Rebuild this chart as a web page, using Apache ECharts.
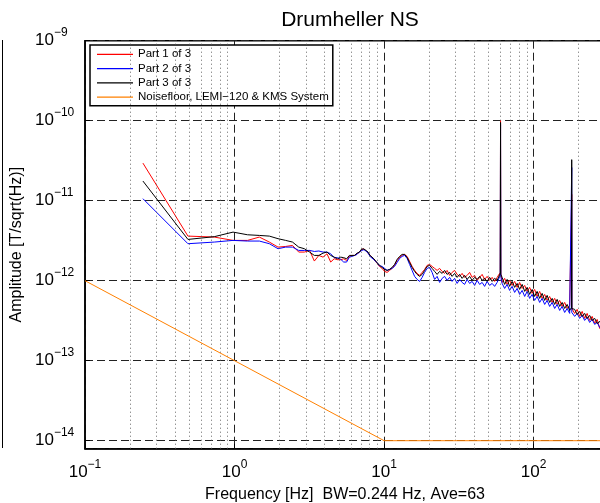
<!DOCTYPE html>
<html>
<head>
<meta charset="utf-8">
<script src="https://cdn.jsdelivr.net/npm/echarts@6/dist/echarts.min.js"></script>
<style>html,body{margin:0;padding:0;background:#fff;}#chart{width:600px;height:503px;}</style>
</head>
<body>
<div id="chart"></div>
<script>
// Frequencies [Hz] shared by the three measured parts
const freq = [
  0.244, 0.488, 0.732, 0.977, 1.221, 1.465, 1.709, 1.953, 2.197, 2.441,
  2.686, 2.930, 3.174, 3.418, 3.662, 3.906, 4.150, 4.395, 4.639, 4.883,
  5.127, 5.371, 5.615, 5.859, 6.104, 6.348, 6.592, 6.836, 7.080, 7.324,
  7.568, 7.813, 8.057, 8.301, 8.545, 8.789, 9.033, 9.277,
  9.70, 10.08, 10.47, 10.88, 11.31, 11.75, 12.22, 12.70, 13.20, 13.71,
  14.25, 14.81, 15.39, 16.00, 16.62, 17.28, 17.96, 18.66, 19.39, 20.15,
  20.95, 21.77, 22.62, 23.51, 24.43, 25.39, 26.38, 27.42, 28.49, 29.62,
  30.78, 31.99, 33.24, 34.55, 35.91, 37.32, 38.78, 40.31, 41.89, 43.53,
  45.24, 47.01, 48.87, 50.78, 52.78, 54.84, 57.00,
  59.81, 60.06, 60.30,
  61.56, 63.97, 66.48, 69.09, 71.80, 74.62, 77.55, 80.6, 83.8, 87.1,
  90.5, 94.0, 97.7, 101.5, 105.5, 109.7, 114.0, 118.5, 123.1, 127.9,
  133.0, 138.2, 143.6, 149.3, 155.1, 161.2, 167.5, 174.1,
  179.44, 179.69, 179.93,
  188.0, 195.4, 203.1, 211.1, 219.3, 227.9, 236.9, 246.2, 255.9, 265.9,
  276.4, 287.2, 298.5
];

// Part 1 of 3 (red) amplitudes [T/sqrt(Hz)]
const part1 = [
  2.95e-11, 3.61e-12, 3.51e-12, 3.19e-12, 3.19e-12, 3.51e-12, 3.04e-12, 2.63e-12, 2.68e-12, 2.76e-12,
  2.28e-12, 2.28e-12, 2.39e-12, 1.76e-12, 2.07e-12, 1.97e-12, 2.17e-12, 1.71e-12, 1.88e-12, 1.83e-12,
  1.83e-12, 1.88e-12, 1.79e-12, 2.01e-12, 2.07e-12, 2.07e-12, 2.17e-12, 2.28e-12, 2.44e-12, 2.51e-12,
  2.35e-12, 2.21e-12, 2.07e-12, 1.97e-12, 1.85e-12, 1.73e-12, 1.63e-12, 1.52e-12,
  1.425e-12, 1.307e-12, 1.270e-12, 1.345e-12, 1.425e-12, 1.553e-12, 1.794e-12, 1.956e-12, 2.072e-12, 2.132e-12,
  2.013e-12, 1.743e-12, 1.509e-12, 1.345e-12, 1.234e-12, 1.165e-12, 1.270e-12, 1.384e-12, 1.553e-12, 1.599e-12,
  1.509e-12, 1.425e-12, 1.345e-12, 1.425e-12, 1.307e-12, 1.234e-12, 1.345e-12, 1.165e-12, 1.270e-12, 1.345e-12,
  1.199e-12, 1.132e-12, 1.234e-12, 1.100e-12, 1.165e-12, 1.270e-12, 1.100e-12, 1.165e-12, 1.010e-12, 1.100e-12,
  1.199e-12, 1.038e-12, 1.132e-12, 1.010e-12, 1.100e-12, 0.980e-12, 1.100e-12,
  1.270e-12, 1.02e-10, 1.234e-12,
  0.952e-12, 1.069e-12, 0.899e-12, 1.010e-12, 0.873e-12, 0.980e-12, 0.825e-12, 0.952e-12, 0.801e-12, 0.873e-12,
  0.735e-12, 0.825e-12, 0.694e-12, 0.778e-12, 0.636e-12, 0.735e-12, 0.601e-12, 0.674e-12, 0.567e-12, 0.636e-12,
  0.535e-12, 0.601e-12, 0.505e-12, 0.567e-12, 0.477e-12, 0.535e-12, 0.450e-12, 0.491e-12,
  0.464e-12, 1.2e-11, 0.450e-12,
  0.390e-12, 0.438e-12, 0.358e-12, 0.413e-12, 0.338e-12, 0.390e-12, 0.319e-12, 0.358e-12, 0.292e-12, 0.328e-12,
  0.253e-12, 0.284e-12, 0.213e-12
];

// Part 2 of 3 (blue)
const part2 = [
  1.06e-11, 2.90e-12, 3.04e-12, 3.19e-12, 3.13e-12, 3.13e-12, 2.90e-12, 2.51e-12, 2.63e-12, 2.63e-12,
  2.39e-12, 2.39e-12, 2.39e-12, 2.32e-12, 2.35e-12, 2.28e-12, 2.28e-12, 2.17e-12, 1.94e-12, 1.94e-12,
  1.85e-12, 1.71e-12, 1.71e-12, 1.97e-12, 2.01e-12, 2.07e-12, 2.13e-12, 2.28e-12, 2.39e-12, 2.44e-12,
  2.35e-12, 2.21e-12, 2.01e-12, 1.94e-12, 1.83e-12, 1.76e-12, 1.66e-12, 1.54e-12,
  1.509e-12, 1.425e-12, 1.345e-12, 1.384e-12, 1.425e-12, 1.509e-12, 1.693e-12, 1.900e-12, 2.013e-12, 2.072e-12,
  1.900e-12, 1.599e-12, 1.345e-12, 1.132e-12, 1.038e-12, 0.980e-12, 1.100e-12, 1.270e-12, 1.425e-12, 1.466e-12,
  1.270e-12, 1.038e-12, 1.132e-12, 0.952e-12, 1.069e-12, 1.132e-12, 1.010e-12, 1.100e-12, 0.980e-12, 1.069e-12,
  0.925e-12, 1.038e-12, 0.952e-12, 0.899e-12, 1.038e-12, 0.925e-12, 0.980e-12, 0.873e-12, 1.010e-12, 0.899e-12,
  0.952e-12, 0.849e-12, 0.980e-12, 0.873e-12, 0.925e-12, 0.849e-12, 0.952e-12,
  1.165e-12, 9.0e-11, 1.132e-12,
  0.925e-12, 0.801e-12, 0.899e-12, 0.756e-12, 0.849e-12, 0.714e-12, 0.801e-12, 0.674e-12, 0.756e-12, 0.636e-12,
  0.735e-12, 0.601e-12, 0.674e-12, 0.567e-12, 0.636e-12, 0.535e-12, 0.601e-12, 0.505e-12, 0.567e-12, 0.477e-12,
  0.535e-12, 0.450e-12, 0.505e-12, 0.425e-12, 0.477e-12, 0.401e-12, 0.450e-12, 0.390e-12,
  0.413e-12, 2.6e-11, 0.401e-12,
  0.358e-12, 0.390e-12, 0.338e-12, 0.368e-12, 0.319e-12, 0.348e-12, 0.301e-12, 0.328e-12, 0.284e-12, 0.301e-12,
  0.261e-12, 0.276e-12, 0.239e-12
];

// Part 3 of 3 (black)
const part3 = [
  1.76e-11, 3.28e-12, 3.55e-12, 4.05e-12, 3.75e-12, 3.68e-12, 3.61e-12, 3.35e-12, 3.19e-12, 3.04e-12,
  2.63e-12, 2.51e-12, 2.28e-12, 2.07e-12, 2.07e-12, 2.21e-12, 2.28e-12, 2.07e-12, 1.97e-12, 1.88e-12,
  1.97e-12, 1.94e-12, 1.88e-12, 2.07e-12, 2.07e-12, 2.07e-12, 2.21e-12, 2.28e-12, 2.49e-12, 2.49e-12,
  2.39e-12, 2.28e-12, 2.07e-12, 2.01e-12, 1.88e-12, 1.76e-12, 1.69e-12, 1.57e-12,
  1.466e-12, 1.384e-12, 1.345e-12, 1.384e-12, 1.466e-12, 1.599e-12, 1.846e-12, 2.013e-12, 2.132e-12, 2.132e-12,
  1.956e-12, 1.693e-12, 1.466e-12, 1.307e-12, 1.199e-12, 1.132e-12, 1.199e-12, 1.345e-12, 1.509e-12, 1.553e-12,
  1.425e-12, 1.307e-12, 1.199e-12, 1.307e-12, 1.234e-12, 1.345e-12, 1.199e-12, 1.270e-12, 1.132e-12, 1.234e-12,
  1.100e-12, 1.199e-12, 1.069e-12, 1.165e-12, 1.038e-12, 1.132e-12, 1.010e-12, 1.100e-12, 1.038e-12, 1.132e-12,
  1.010e-12, 1.069e-12, 0.980e-12, 1.100e-12, 0.980e-12, 1.069e-12, 1.010e-12,
  1.234e-12, 9.5e-11, 1.199e-12,
  1.100e-12, 0.899e-12, 1.038e-12, 0.849e-12, 0.980e-12, 0.825e-12, 0.925e-12, 0.778e-12, 0.899e-12, 0.735e-12,
  0.825e-12, 0.674e-12, 0.778e-12, 0.636e-12, 0.735e-12, 0.601e-12, 0.694e-12, 0.567e-12, 0.655e-12, 0.535e-12,
  0.601e-12, 0.505e-12, 0.584e-12, 0.477e-12, 0.535e-12, 0.450e-12, 0.505e-12, 0.425e-12,
  0.464e-12, 3.26e-11, 0.450e-12,
  0.438e-12, 0.379e-12, 0.413e-12, 0.358e-12, 0.390e-12, 0.338e-12, 0.368e-12, 0.319e-12, 0.338e-12, 0.292e-12,
  0.310e-12, 0.268e-12, 0.284e-12
];

// Noise floor, LEMI-120 & KMS system
const noiseFreq = [0.1, 10, 300];
const noiseAmp = [1e-12, 1e-14, 1e-14];

// Axis ranges and minor grid positions
const xRange = [0.1, 300];
const yRange = [7.943e-15, 1e-9];
const minorX = [0.2,0.3,0.4,0.5,0.6,0.7,0.8,0.9, 2,3,4,5,6,7,8,9, 20,30,40,50,60,70,80,90, 200,300];
const minorY = [9e-15,
  2e-14,3e-14,4e-14,5e-14,6e-14,7e-14,8e-14,9e-14,
  2e-13,3e-13,4e-13,5e-13,6e-13,7e-13,8e-13,9e-13,
  2e-12,3e-12,4e-12,5e-12,6e-12,7e-12,8e-12,9e-12,
  2e-11,3e-11,4e-11,5e-11,6e-11,7e-11,8e-11,9e-11,
  2e-10,3e-10,4e-10,5e-10,6e-10,7e-10,8e-10,9e-10];

const seriesNames = ['Part 1 of 3', 'Part 2 of 3', 'Part 3 of 3', 'Noisefloor, LEMI\u2212120 & KMS System'];
const seriesColors = ['#ff0000', '#0000ff', '#000000', '#ff8000'];

const FONT = '"Liberation Sans", Arial, Helvetica, sans-serif';

function powLabel(v) {
  const l = Math.log10(v);
  const e = Math.round(l);
  if (Math.abs(l - e) > 1e-6) return '';
  return '{b|10}{s|' + (e < 0 ? '\u2212' : '') + Math.abs(e) + '}';
}
const richPow = {
  b: { fontSize: 17, lineHeight: 28, fontFamily: FONT, color: '#000' },
  s: { fontSize: 12, lineHeight: 12, verticalAlign: 'top', fontFamily: FONT, color: '#000' }
};

const chart = echarts.init(document.getElementById('chart'), null, { renderer: 'canvas' });

const minorStyle = { type: [1, 3], color: '#555', width: 1, opacity: 0.9 };

const option = {
  animation: false,
  backgroundColor: '#fff',
  title: {
    text: 'Drumheller NS',
    left: 345, top: 5, textAlign: 'center',
    textStyle: { fontSize: 21, fontWeight: 'normal', color: '#000', fontFamily: FONT }
  },
  grid: {
    left: 85, top: 40.7, width: 520, height: 408,
    outerBoundsMode: 'none', containLabel: false,
    show: true, borderColor: '#000', borderWidth: 1.5, backgroundColor: 'transparent'
  },
  legend: {
    orient: 'vertical',
    left: 90, top: 45,
    data: seriesNames.map((n, i) => ({ name: n, icon: 'rect', itemStyle: { color: seriesColors[i] } })),
    backgroundColor: '#fff',
    borderColor: '#000', borderWidth: 1.5, borderRadius: 0,
    padding: [2.3, 4, 1.5, 7],
    itemWidth: 36, itemHeight: 1.2, itemGap: 0.3,
    textStyle: { fontSize: 11.5, lineHeight: 14, color: '#000', fontFamily: FONT },
    selectedMode: false
  },
  xAxis: {
    type: 'log', logBase: 10,
    min: xRange[0], max: xRange[1],
    name: 'Frequency [Hz]  BW=0.244 Hz, Ave=63',
    nameLocation: 'middle', nameGap: 33,
    nameTextStyle: { fontSize: 16, color: '#000', fontFamily: FONT },
    axisLine: { show: true, onZero: false, lineStyle: { color: '#000', width: 1.5 } },
    axisTick: { show: true, inside: true, length: 5, lineStyle: { color: '#000' } },
    axisLabel: { formatter: powLabel, rich: richPow, margin: 10, showMaxLabel: false },
    splitLine: { show: true, lineStyle: { type: [8, 4], color: '#222', width: 1 } },
    minorTick: { show: false }, minorSplitLine: { show: false }
  },
  yAxis: {
    type: 'log', logBase: 10,
    min: yRange[0], max: yRange[1],
    name: 'Amplitude [T/sqrt(Hz)]',
    nameLocation: 'middle', nameGap: 46, nameRotate: 90,
    nameTextStyle: { fontSize: 16, color: '#000', fontFamily: FONT },
    axisLine: { show: true, onZero: false, lineStyle: { color: '#000', width: 1.5 } },
    axisTick: { show: true, inside: true, length: 5, lineStyle: { color: '#000' } },
    axisLabel: { formatter: powLabel, rich: richPow, margin: 50, align: 'left', verticalAlign: 'middle' },
    splitLine: { show: true, lineStyle: { type: [8, 4], color: '#222', width: 1 } },
    minorTick: { show: false }, minorSplitLine: { show: false }
  },
  graphic: [{
    type: 'line', silent: true,
    shape: { x1: 2.5, y1: 40, x2: 2.5, y2: 448 },
    style: { stroke: '#000', lineWidth: 1 }
  }],
  series: [
    {
      name: 'minor-grid', type: 'line', data: [], z: 1, silent: true,
      markLine: {
        silent: true, symbol: ['none', 'none'], animation: false,
        label: { show: false },
        lineStyle: minorStyle,
        emphasis: { disabled: true },
        data: minorX.map(v => ({ xAxis: v })).concat(minorY.map(v => ({ yAxis: v })))
      }
    },
    {
      name: seriesNames[0], type: 'line', symbol: 'none', z: 3,
      data: freq.map((f, i) => [f, part1[i]]),
      lineStyle: { color: seriesColors[0], width: 1 }, itemStyle: { color: seriesColors[0] }
    },
    {
      name: seriesNames[1], type: 'line', symbol: 'none', z: 4,
      data: freq.map((f, i) => [f, part2[i]]),
      lineStyle: { color: seriesColors[1], width: 1 }, itemStyle: { color: seriesColors[1] }
    },
    {
      name: seriesNames[2], type: 'line', symbol: 'none', z: 5,
      data: freq.map((f, i) => [f, part3[i]]),
      lineStyle: { color: seriesColors[2], width: 1 }, itemStyle: { color: seriesColors[2] }
    },
    {
      name: seriesNames[3], type: 'line', symbol: 'none', z: 6,
      data: noiseFreq.map((f, i) => [f, noiseAmp[i]]),
      lineStyle: { color: seriesColors[3], width: 1 }, itemStyle: { color: seriesColors[3] }
    }
  ]
};
chart.setOption(option);
</script>
</body>
</html>
